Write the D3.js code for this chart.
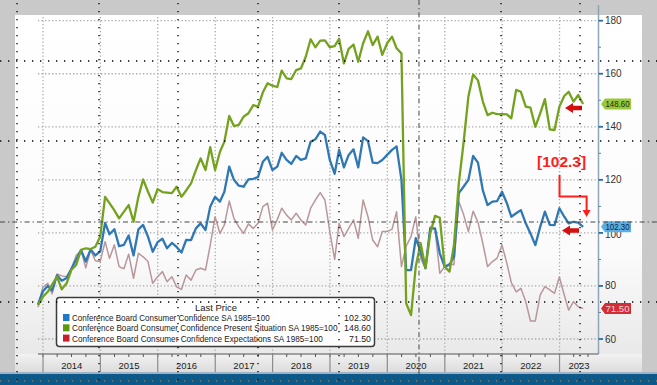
<!DOCTYPE html>
<html>
<head>
<meta charset="utf-8">
<script src="https://cdn.jsdelivr.net/npm/d3@7"></script>
<style>
body { margin: 0; background: #c9c9c9; }
svg { display: block; font-family: "Liberation Sans", Arial, sans-serif; }
</style>
</head>
<body>
<div id="chart"></div>
<script>
// monthly readings, first one is Nov 2013, last one May 2023
var firstMonth = new Date(2013, 10, 1);

var confidence = [
    73.0, 78.0,
    80.0, 78.3, 84.0, 82.0, 83.0, 86.4, 90.0, 93.5, 89.2, 93.8, 91.5, 93.0,
    103.8, 99.5, 101.4, 95.0, 95.5, 99.0, 91.5, 101.3, 103.0, 98.6, 92.9, 96.5,
    97.8, 94.2, 96.2, 94.7, 92.6, 97.4, 97.3, 101.7, 103.6, 101.1, 109.9, 113.6,
    111.8, 115.5, 125.0, 120.0, 117.8, 117.4, 120.2, 120.4, 121.0, 126.8, 128.7, 123.7,
    125.0, 130.2, 127.5, 126.0, 129.0, 127.5, 128.1, 134.4, 135.3, 138.2, 136.9, 127.5,
    122.3, 131.3, 124.7, 129.4, 131.5, 124.7, 136.0, 134.6, 126.5, 126.3, 127.5, 129.4,
    131.3, 132.6, 120.0, 86.0, 86.0, 98.0, 92.9, 86.7, 101.7, 101.7, 92.3, 87.3,
    88.0, 91.0, 115.0, 117.4, 120.0, 129.0, 126.5, 116.0, 110.5, 111.8, 112.0, 115.5,
    111.2, 106.1, 107.4, 108.6, 103.6, 99.8, 95.4, 102.3, 108.0, 103.0, 102.9, 109.3,
    106.1, 103.6, 104.2, 103.9, 102.3
];

var presentSituation = [
    72.8, 75.9,
    77.8, 80.5, 83.5, 78.7, 81.0, 86.0, 87.9, 93.6, 94.2, 93.9, 94.8, 98.6,
    113.6, 111.2, 108.5, 105.5, 108.0, 110.5, 104.2, 113.6, 120.2, 115.5, 111.4, 116.5,
    115.4, 115.2, 115.0, 117.4, 113.6, 116.0, 118.7, 123.7, 128.1, 123.7, 132.3, 123.7,
    130.6, 134.4, 144.1, 140.3, 140.7, 143.8, 145.1, 148.2, 147.5, 153.0, 156.4, 155.5,
    155.0, 161.2, 158.3, 158.0, 161.4, 162.0, 166.4, 173.0, 170.0, 172.5, 172.6, 170.0,
    170.4, 173.2, 163.9, 169.4, 171.0, 164.5, 171.5, 176.0, 170.8, 174.0, 167.1, 171.5,
    174.0, 169.6, 167.7, 73.5, 69.0, 87.3, 96.1, 86.7, 99.8, 106.4, 105.7, 87.3,
    85.4, 95.4, 118.7, 133.8, 151.4, 159.7, 157.5, 149.5, 144.4, 145.3, 144.8, 144.8,
    144.7, 143.2, 153.9, 153.2, 147.6, 147.2, 140.0, 145.1, 150.4, 139.0, 138.8, 147.6,
    151.6, 153.2, 149.5, 152.0, 148.6
];

var expectations = [
    72.0, 79.5,
    81.0, 77.0, 84.5, 83.8, 83.5, 86.5, 91.5, 93.5, 86.8, 93.6, 89.5, 89.2,
    96.7, 90.4, 95.5, 87.3, 86.5, 92.0, 82.9, 92.3, 91.0, 89.2, 81.0, 83.5,
    85.4, 81.6, 83.5, 79.7, 78.7, 84.1, 82.2, 86.0, 86.7, 86.0, 95.4, 106.1,
    99.8, 103.0, 112.0, 105.5, 102.3, 99.8, 103.4, 101.7, 103.6, 109.9, 111.2, 101.1,
    105.1, 109.3, 106.7, 104.9, 107.4, 104.9, 103.0, 109.3, 112.4, 115.2, 112.4, 100.5,
    90.0, 103.6, 98.6, 101.7, 104.9, 98.0, 112.4, 106.1, 97.3, 94.8, 100.5, 100.5,
    101.4, 108.0, 87.3, 95.0, 98.6, 106.1, 90.4, 86.7, 102.3, 101.1, 84.8, 87.3,
    88.5, 88.0, 111.8, 107.0, 100.5, 108.2, 104.0, 96.0, 87.3, 89.2, 90.5, 95.4,
    88.5, 81.3, 77.8, 79.1, 74.1, 66.8, 66.8, 76.6, 79.7, 78.5, 77.2, 83.4,
    76.6, 70.9, 74.1, 72.2, 71.5
];

var seriesNames = [
    "Conference Board Consumer Confidence SA 1985=100",
    "Conference Board Consumer Confidence Present Situation SA 1985=100",
    "Conference Board Consumer Confidence Expectations SA 1985=100"
];
var lastPrices = ["102.30", "148.60", "71.50"];
var yTicks = [60, 80, 100, 120, 140, 160, 180];
var years = [2014, 2015, 2016, 2017, 2018, 2019, 2020, 2021, 2022, 2023];
var calloutText = "[102.3]";

var width = 657, height = 385;

var svg = d3.select("#chart").append("svg")
    .attr("width", width)
    .attr("height", height);

var defs = svg.append("defs");
var grad = defs.append("linearGradient").attr("id", "plotbg")
    .attr("x1", 0).attr("y1", 0).attr("x2", 0).attr("y2", 1);
grad.append("stop").attr("offset", "0%").attr("stop-color", "#ffffff");
grad.append("stop").attr("offset", "70%").attr("stop-color", "#fbfbfb");
grad.append("stop").attr("offset", "100%").attr("stop-color", "#e9e9e9");
var grad2 = defs.append("linearGradient").attr("id", "axisbg")
    .attr("x1", 0).attr("y1", 0).attr("x2", 0).attr("y2", 1);
grad2.append("stop").attr("offset", "0%").attr("stop-color", "#f2f2f2");
grad2.append("stop").attr("offset", "100%").attr("stop-color", "#dcdcdc");

// frame pieces
svg.append("rect").attr("x", 15).attr("y", 15).attr("width", 627).attr("height", 339)
    .attr("fill", "url(#plotbg)");
svg.append("rect").attr("x", 15).attr("y", 354).attr("width", 627).attr("height", 18)
    .attr("fill", "url(#axisbg)");
svg.append("rect").attr("x", 0).attr("y", 372).attr("width", width).attr("height", 2)
    .attr("fill", "#9fb3c4");
svg.append("rect").attr("x", 0).attr("y", 374).attr("width", width).attr("height", 11)
    .attr("fill", "#0d5a8a");

//Scales
var xScale = d3.scaleTime()
    .domain([new Date(2013, 10, 30), new Date(2023, 8, 6)])
    .range([38, 598.5]);

var yScale = d3.scaleLinear()
    .domain([60, 180])
    .range([339, 20.7]);

// month end dates for each reading
function monthEnd(i) {
    return d3.timeDay.offset(d3.timeMonth.offset(firstMonth, i + 1), -1);
}

// grid
var grid = svg.append("g").attr("class", "grid");
grid.selectAll("line.h")
    .data(yTicks)
    .enter().append("line")
    .attr("x1", 38).attr("x2", 598)
    .attr("y1", function(d) { return yScale(d); })
    .attr("y2", function(d) { return yScale(d); })
    .attr("stroke", "#a8a8a8")
    .attr("stroke-width", 1.3)
    .attr("stroke-dasharray", "1.3,2.2");

grid.selectAll("line.v")
    .data(years)
    .enter().append("line")
    .attr("x1", function(d) { return xScale(new Date(d, 0, 1)); })
    .attr("x2", function(d) { return xScale(new Date(d, 0, 1)); })
    .attr("y1", 17).attr("y2", 354)
    .attr("stroke", "#a8a8a8")
    .attr("stroke-width", 1.3)
    .attr("stroke-dasharray", "1.3,2.2");

// series lines
var line = d3.line()
    .x(function(d, i) { return xScale(monthEnd(i)); })
    .y(function(d) { return yScale(d); });

var series = [
    {values: expectations, color: "#b8979b", w: 1.5},
    {values: confidence, color: "#2f78b3", w: 2.3},
    {values: presentSituation, color: "#74a21e", w: 2.3}
];

svg.append("g").attr("class", "lines")
    .selectAll("path")
    .data(series)
    .enter().append("path")
    .attr("d", function(d) { return line(d.values); })
    .attr("fill", "none")
    .attr("stroke", function(d) { return d.color; })
    .attr("stroke-width", function(d) { return d.w; })
    .attr("stroke-linejoin", "round");

// right axis
var yAxis = svg.append("g").attr("class", "yaxis");
yAxis.append("line")
    .attr("x1", 598.5).attr("x2", 598.5)
    .attr("y1", 5).attr("y2", 354)
    .attr("stroke", "#8ea5ba").attr("stroke-width", 1.5);

yAxis.selectAll("line.minor")
    .data(d3.range(70, 180, 20))
    .enter().append("line")
    .attr("x1", 598.5).attr("x2", 601)
    .attr("y1", function(d) { return yScale(d); })
    .attr("y2", function(d) { return yScale(d); })
    .attr("stroke", "#5b84aa").attr("stroke-width", 1);

yAxis.selectAll("line.major")
    .data(yTicks)
    .enter().append("line")
    .attr("x1", 598.5).attr("x2", 603)
    .attr("y1", function(d) { return yScale(d); })
    .attr("y2", function(d) { return yScale(d); })
    .attr("stroke", "#2d6da5").attr("stroke-width", 1.8);

// the 100 label sits partly under the blue tag, as on the terminal screen
yAxis.selectAll("text")
    .data(yTicks)
    .enter().append("text")
    .attr("x", 605)
    .attr("y", function(d) { return yScale(d) + (d === 100 ? 2 : 0); })
    .attr("dy", "0.35em")
    .attr("font-size", 10)
    .attr("fill", "#333")
    .text(function(d) { return d; });

// last value tags
var tags = [
    {v: +lastPrices[1], label: lastPrices[1], fill: "#97c93a", text: "#1f2a10"},
    {v: +lastPrices[0], label: lastPrices[0], fill: "#5aaee3", text: "#0d2740"},
    {v: +lastPrices[2], label: lastPrices[2], fill: "#d32d38", text: "#f7d4d6"}
];
var tag = svg.append("g").attr("class", "tags")
    .selectAll("g")
    .data(tags)
    .enter().append("g")
    .attr("transform", function(d) { return "translate(0," + yScale(d.v) + ")"; });
tag.append("path")
    .attr("d", "M601,0L605,-5.5L631,-5.5L631,5.5L605,5.5Z")
    .attr("fill", function(d) { return d.fill; });
tag.append("text")
    .attr("x", 605.5).attr("dy", "0.35em")
    .attr("font-size", 9)
    .attr("textLength", 24).attr("lengthAdjust", "spacingAndGlyphs")
    .attr("fill", function(d) { return d.text; })
    .text(function(d) { return d.label; });

// x axis
var xAxis = svg.append("g").attr("class", "xaxis");
xAxis.append("line")
    .attr("x1", 38).attr("x2", 598.5)
    .attr("y1", 354).attr("y2", 354)
    .attr("stroke", "#555").attr("stroke-width", 1.2);

xAxis.selectAll("line.q")
    .data(d3.timeMonth.every(3).range(new Date(2014, 0, 1), new Date(2023, 8, 1)))
    .enter().append("line")
    .attr("x1", function(d) { return xScale(d); })
    .attr("x2", function(d) { return xScale(d); })
    .attr("y1", 354).attr("y2", 357)
    .attr("stroke", "#555");

xAxis.selectAll("line.sep")
    .data(years)
    .enter().append("line")
    .attr("x1", function(d) { return xScale(new Date(d, 0, 1)); })
    .attr("x2", function(d) { return xScale(new Date(d, 0, 1)); })
    .attr("y1", 354).attr("y2", 372)
    .attr("stroke", "#8c8c8c").attr("stroke-width", 1.2);

xAxis.selectAll("text")
    .data(years)
    .enter().append("text")
    .attr("x", function(d) {
        var a = xScale(new Date(d, 0, 1));
        var b = Math.min(xScale(new Date(d + 1, 0, 1)), xScale.range()[1]);
        return (a + b) / 2;
    })
    .attr("y", 369)
    .attr("text-anchor", "middle")
    .attr("font-size", 9.5)
    .attr("fill", "#222")
    .text(function(d) { return d; });

// legend
var legend = svg.append("g").attr("class", "legend");
legend.append("rect")
    .attr("x", 56.5).attr("y", 297.5).attr("width", 318).attr("height", 49)
    .attr("rx", 3)
    .attr("fill", "#fff").attr("fill-opacity", 0.93)
    .attr("stroke", "#3c3c3c").attr("stroke-width", 1.5);
legend.append("text")
    .attr("x", 216).attr("y", 311)
    .attr("text-anchor", "middle")
    .attr("font-size", 9.5).attr("fill", "#222")
    .text("Last Price");

var legendColors = ["#1f78c8", "#5a9a0a", "#c8202a"];
var legendWidths = [198, 266, 251];
var rows = legend.selectAll("g.row")
    .data(seriesNames)
    .enter().append("g")
    .attr("transform", function(d, i) { return "translate(0," + (318 + i * 10.3) + ")"; });
rows.append("rect")
    .attr("x", 63).attr("y", -4).attr("width", 6.5).attr("height", 7)
    .attr("fill", function(d, i) { return legendColors[i]; });
// squeeze names horizontally, the terminal font is narrow
rows.append("g")
    .attr("class", "name")
    .append("text")
    .attr("dy", "0.35em")
    .attr("font-size", 9).attr("fill", "#222")
    .text(function(d) { return d; });
rows.select("g.name").attr("transform", function(d, i) {
    var w = this.firstChild.getComputedTextLength();
    return "translate(72,0) scale(" + (legendWidths[i] / w) + ",1)";
});
rows.append("text")
    .attr("x", 371).attr("dy", "0.35em")
    .attr("text-anchor", "end")
    .attr("font-size", 8.8).attr("fill", "#222")
    .text(function(d, i) { return lastPrices[i]; });

// red annotations
var notes = svg.append("g").attr("class", "notes");
var lastDate = monthEnd(confidence.length - 1);
var calloutX = xScale(new Date(2023, 0, 1));
notes.append("text")
    .attr("x", 537).attr("y", 167)
    .attr("font-size", 15.5).attr("font-weight", "bold")
    .attr("fill", "#ff1e1e")
    .text(calloutText);
notes.append("path")
    .attr("d", "M" + calloutX + ",175V196.5H" + (xScale(lastDate) + 3.5) + "V211")
    .attr("fill", "none").attr("stroke", "#ff1e1e").attr("stroke-width", 2);
notes.append("path")
    .attr("d", "M" + (xScale(lastDate) - 0.5) + ",210L" + (xScale(lastDate) + 7.5) + ",210L" + (xScale(lastDate) + 3.5) + ",217Z")
    .attr("fill", "#ff1e1e");

function redArrow(tipX, y) {
    return "M" + tipX + "," + y +
        "L" + (tipX + 8) + "," + (y - 5) +
        "L" + (tipX + 8) + "," + (y - 2.3) +
        "L" + (tipX + 17) + "," + (y - 2.3) +
        "L" + (tipX + 17) + "," + (y + 2.3) +
        "L" + (tipX + 8) + "," + (y + 2.3) +
        "L" + (tipX + 8) + "," + (y + 5) + "Z";
}
notes.append("path").attr("d", redArrow(565, 108)).attr("fill", "#d40f0f");
notes.append("path").attr("d", redArrow(562, 230.5)).attr("fill", "#d40f0f");

// screen overlay dotted lines
var overlay = svg.append("g").attr("class", "overlay");
[61, 141, 302].forEach(function(y) {
    overlay.append("line").attr("x1", 0).attr("x2", width).attr("y1", y).attr("y2", y)
        .attr("stroke", "#000").attr("stroke-width", 1.3).attr("stroke-dasharray", "1.3,6.7");
});
overlay.append("line").attr("x1", 0).attr("x2", width).attr("y1", 222).attr("y2", 222)
    .attr("stroke", "#444").attr("stroke-width", 1).attr("stroke-dasharray", "5,3,1.3,3");
overlay.append("line").attr("x1", 0).attr("x2", width).attr("y1", 381).attr("y2", 381)
    .attr("stroke", "#e2822a").attr("stroke-width", 1.2).attr("stroke-dasharray", "1.3,6.7");
[17, 99, 178, 258, 339, 501, 580].forEach(function(x) {
    overlay.append("line").attr("x1", x).attr("x2", x).attr("y1", 3).attr("y2", height)
        .attr("stroke", "#000").attr("stroke-width", 1.3).attr("stroke-dasharray", "1.3,6.7");
});
overlay.append("line").attr("x1", 419).attr("x2", 419).attr("y1", 0).attr("y2", height)
    .attr("stroke", "#444").attr("stroke-width", 1).attr("stroke-dasharray", "5,3,1.3,3");
</script>
</body>
</html>
